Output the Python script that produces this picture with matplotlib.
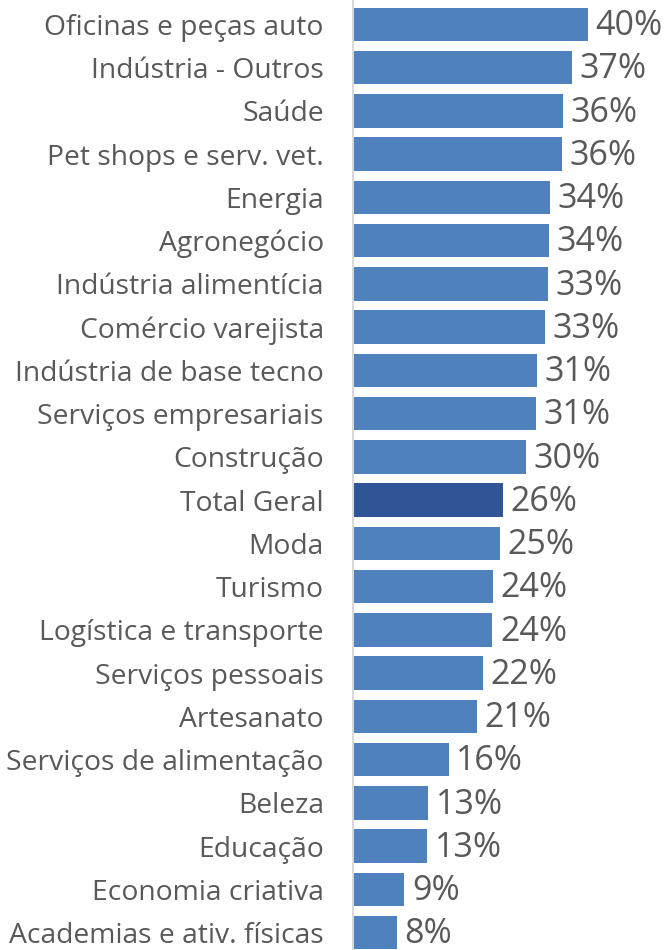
import matplotlib
matplotlib.use("Agg")
from matplotlib import pyplot as plt

categories = ["Oficinas e peças auto", "Indústria - Outros", "Saúde", "Pet shops e serv. vet.",
              "Energia", "Agronegócio", "Indústria alimentícia", "Comércio varejista",
              "Indústria de base tecno", "Serviços empresariais", "Construção", "Total Geral",
              "Moda", "Turismo", "Logística e transporte", "Serviços pessoais", "Artesanato",
              "Serviços de alimentação", "Beleza", "Educação", "Economia criativa",
              "Academias e ativ. físicas"]
values = [40.0, 37.3, 35.7, 35.6, 33.5, 33.4, 33.2, 32.6, 31.3, 31.1, 29.4, 25.5,
          25.0, 23.8, 23.7, 22.1, 21.1, 16.3, 12.8, 12.6, 8.7, 7.5]
labels = ["40%", "37%", "36%", "36%", "34%", "34%", "33%", "33%", "31%", "31%", "30%", "26%",
          "25%", "24%", "24%", "22%", "21%", "16%", "13%", "13%", "9%", "8%"]

plt.rcParams['font.family'] = ['Open Sans', 'DejaVu Sans']
text_color = '#595959'

fig = plt.figure(figsize=(6.72, 9.5), dpi=100)
ax = fig.add_axes([353/672, 0, 1 - 353/672, 1])

colors = ['#2F5597' if c == "Total Geral" else '#4F81BD' for c in categories]
y = list(range(len(categories)))
ax.barh(y, values, height=0.775, color=colors)

for yi, v, lab in zip(y, values, labels):
    ax.text(v + 1.3, yi + 0.04, lab, va='center', ha='left', fontsize=24.5, color=text_color)

ax.set_yticks(y)
ax.set_yticklabels(categories, fontsize=20.3, color=text_color)
ax.tick_params(axis='y', length=0, pad=21)
ax.set_xticks([])
ax.set_xlim(0, (672 - 353) / 5.875)
ax.set_ylim(21.4, -0.566)

for s in ['top', 'right', 'bottom']:
    ax.spines[s].set_visible(False)
ax.spines['left'].set_color('#D9D9D9')
ax.spines['left'].set_linewidth(1.5)

fig.savefig('out.png', dpi=100)
